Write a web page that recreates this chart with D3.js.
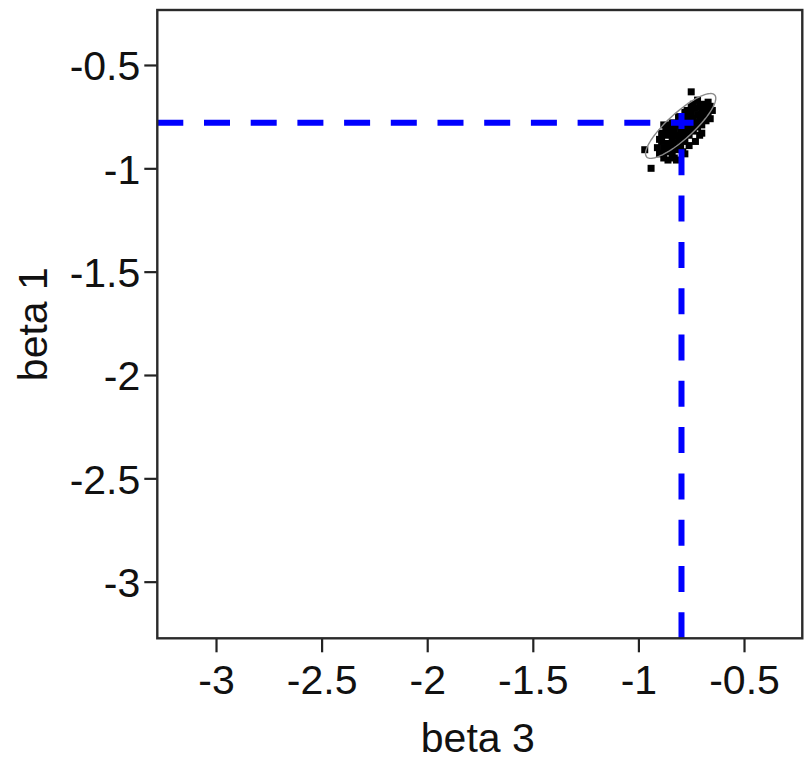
<!DOCTYPE html>
<html>
<head>
<meta charset="utf-8">
<script src="https://cdn.jsdelivr.net/npm/d3@7"></script>
<style>
  html, body { margin: 0; padding: 0; background: #fff; }
  svg { display: block; }
  text { font-family: "Liberation Sans", Arial, sans-serif; fill: #111; }
</style>
</head>
<body>
<svg id="chart" width="805" height="762"></svg>
<script>
// ---- data ----
const xTicks = [-3, -2.5, -2, -1.5, -1, -0.5];
const yTicks = [-0.5, -1, -1.5, -2, -2.5, -3];
const xDomain = [-3.278, -0.224];
const yDomain = [-3.274, -0.234];
const xLabel = "beta 3";
const yLabel = "beta 1";

// reference (estimate) lines
const refX = -0.796;
const refY = -0.779;
const refLineEndX = -0.739;
const refLineEndY = -0.732;

// sampled points (beta 3, beta 1)
const sampleX = [-0.91,-0.90,-0.89,-0.88,-0.88,-0.87,-0.87,-0.86,-0.86,-0.85,-0.85,-0.84,-0.84,-0.83,-0.83,-0.82,-0.82,-0.81,-0.81,-0.80,-0.80,-0.79,-0.79,-0.78,-0.78,-0.77,-0.77,-0.76,-0.76,-0.75,-0.75,-0.74,-0.74,-0.73,-0.73,-0.72,-0.72,-0.71,-0.71,-0.70,-0.70,-0.69,-0.69,-0.68,-0.68,-0.67,-0.67,-0.66,-0.74,-0.77,-0.85,-0.83,-0.79,-0.76,-0.71,-0.89,-0.80,-0.86,-0.90,-0.88,-0.82,-0.78,-0.73,-0.70,-0.75,-0.65,
  -0.87,-0.84,-0.81,-0.78,-0.72,-0.69,-0.83,-0.80,-0.77,-0.74,-0.68,-0.66,
  -0.75,-0.97,-0.94];
const sampleY = [-0.90,-0.93,-0.87,-0.95,-0.90,-0.84,-0.92,-0.88,-0.96,-0.83,-0.90,-0.86,-0.93,-0.81,-0.88,-0.84,-0.91,-0.79,-0.86,-0.82,-0.89,-0.77,-0.85,-0.80,-0.87,-0.75,-0.83,-0.78,-0.84,-0.73,-0.80,-0.76,-0.82,-0.71,-0.78,-0.74,-0.80,-0.70,-0.77,-0.72,-0.79,-0.69,-0.75,-0.71,-0.77,-0.68,-0.73,-0.70,-0.69,-0.72,-0.79,-0.95,-0.92,-0.89,-0.84,-0.83,-0.76,-0.81,-0.86,-0.79,-0.96,-0.93,-0.87,-0.83,-0.70,-0.72,
  -0.80,-0.78,-0.75,-0.73,-0.67,-0.73,-0.90,-0.85,-0.81,-0.79,-0.75,-0.76,
  -0.63,-0.91,-1.00];

// confidence ellipse (center, semi-axes in data units, rotation in degrees)
const ellipseCenter = [-0.80, -0.795];
const ellipseAxes = [0.22, 0.062];
const ellipseAngle = 43;

// ---- layout ----
const svg = d3.select("#chart");
const pLeft = 157.3, pTop = 10, pRight = 802.3, pBottom = 638.3;

const x = d3.scaleLinear().domain(xDomain).range([pLeft, pRight]);
const y = d3.scaleLinear().domain(yDomain).range([pBottom, pTop]);

const fontSize = 41;

// axes
const xAxis = d3.axisBottom(x).tickValues(xTicks).tickSize(14).tickPadding(6)
  .tickFormat(d => String(d));
const yAxis = d3.axisLeft(y).tickValues(yTicks).tickSize(13).tickPadding(4)
  .tickFormat(d => String(d));

const gx = svg.append("g").attr("transform", `translate(0,${pBottom})`).call(xAxis);
const gy = svg.append("g").attr("transform", `translate(${pLeft},0)`).call(yAxis);
[gx, gy].forEach(g => {
  g.select(".domain").remove();
  g.selectAll(".tick line").attr("stroke", "#222").attr("stroke-width", 2.2);
  g.selectAll(".tick text").attr("font-size", fontSize)
    .attr("font-family", "'Liberation Sans', Arial, sans-serif").attr("fill", "#111");
});
gx.selectAll(".tick text").attr("dy", null).attr("y", 56);
gy.selectAll(".tick text").attr("dy", "0.36em");

// points
const pts = sampleX.map((v, i) => [v, sampleY[i]]);
const ms = 7;
svg.append("g").selectAll("rect").data(pts).join("rect")
  .attr("x", d => x(d[0]) - ms / 2)
  .attr("y", d => y(d[1]) - ms / 2)
  .attr("width", ms).attr("height", ms)
  .attr("fill", "#000");

// ellipse
const th = ellipseAngle * Math.PI / 180;
const ell = d3.range(0, 361, 4).map(a => {
  const t = a * Math.PI / 180;
  const u = ellipseAxes[0] * Math.cos(t), v = ellipseAxes[1] * Math.sin(t);
  return [ellipseCenter[0] + u * Math.cos(th) - v * Math.sin(th),
          ellipseCenter[1] + u * Math.sin(th) + v * Math.cos(th)];
});
svg.append("path")
  .attr("d", d3.line().x(d => x(d[0])).y(d => y(d[1]))(ell))
  .attr("fill", "none").attr("stroke", "#8a8a8a").attr("stroke-width", 1.4);

// dashed reference lines
svg.append("line")
  .attr("x1", x(xDomain[0])).attr("x2", x(refLineEndX))
  .attr("y1", y(refY)).attr("y2", y(refY))
  .attr("stroke", "#0000ff").attr("stroke-width", 6).attr("stroke-dasharray", "26,20.7");
svg.append("line")
  .attr("x1", x(refX)).attr("x2", x(refX))
  .attr("y1", y(yDomain[0])).attr("y2", y(refLineEndY))
  .attr("stroke", "#0000ff").attr("stroke-width", 6).attr("stroke-dasharray", "26,20.3");

// frame
svg.append("rect")
  .attr("x", pLeft).attr("y", pTop)
  .attr("width", pRight - pLeft).attr("height", pBottom - pTop)
  .attr("fill", "none").attr("stroke", "#2a2a2a").attr("stroke-width", 2.4);

// titles
svg.append("text")
  .attr("x", (pLeft + pRight) / 2 - 2).attr("y", 752)
  .attr("text-anchor", "middle").attr("font-size", fontSize)
  .text(xLabel);
svg.append("text")
  .attr("transform", `translate(47,${(pTop + pBottom) / 2}) rotate(-90)`)
  .attr("text-anchor", "middle").attr("font-size", fontSize)
  .text(yLabel);
</script>
</body>
</html>
